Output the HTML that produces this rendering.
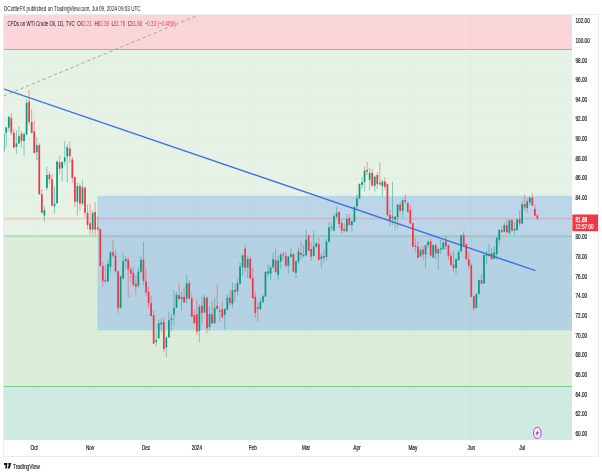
<!DOCTYPE html><html><head><meta charset="utf-8"><title>chart</title><style>html,body{margin:0;padding:0;background:#fff;}svg{display:block;opacity:0.999;will-change:transform}text{font-family:"Liberation Sans",sans-serif;}</style></head><body>
<svg width="602" height="476" viewBox="0 0 602 476">
<rect x="0" y="0" width="602" height="476" fill="#ffffff"/>
<defs><clipPath id="pane"><rect x="4" y="15" width="568" height="425"/></clipPath></defs>
<rect x="4" y="15" width="568" height="34.5" fill="#fad5d9"/>
<rect x="4" y="49.5" width="568" height="186.2" fill="#e5f2e5"/>
<rect x="4" y="235.7" width="568" height="150.8" fill="#dcedda"/>
<rect x="4" y="386.5" width="568" height="53.5" fill="#cfe9e3"/>
<g clip-path="url(#pane)">
<rect x="97.9" y="196.3" width="474.1" height="39.39999999999998" fill="#bdd5e8"/>
<rect x="97.9" y="235.7" width="474.1" height="94.30000000000001" fill="#b5d1e4"/>
<path d="M572 196.3H97.9V330H572" fill="none" stroke="#a3dbe6" stroke-width="0.8"/>
<line x1="4" x2="572" y1="433.71" y2="433.71" stroke="#000" stroke-opacity="0.035" stroke-width="0.6"/>
<line x1="4" x2="572" y1="414.06" y2="414.06" stroke="#000" stroke-opacity="0.035" stroke-width="0.6"/>
<line x1="4" x2="572" y1="394.41" y2="394.41" stroke="#000" stroke-opacity="0.035" stroke-width="0.6"/>
<line x1="4" x2="572" y1="374.76" y2="374.76" stroke="#000" stroke-opacity="0.035" stroke-width="0.6"/>
<line x1="4" x2="572" y1="355.12" y2="355.12" stroke="#000" stroke-opacity="0.035" stroke-width="0.6"/>
<line x1="4" x2="572" y1="335.47" y2="335.47" stroke="#000" stroke-opacity="0.035" stroke-width="0.6"/>
<line x1="4" x2="572" y1="315.82" y2="315.82" stroke="#000" stroke-opacity="0.035" stroke-width="0.6"/>
<line x1="4" x2="572" y1="296.17" y2="296.17" stroke="#000" stroke-opacity="0.035" stroke-width="0.6"/>
<line x1="4" x2="572" y1="276.52" y2="276.52" stroke="#000" stroke-opacity="0.035" stroke-width="0.6"/>
<line x1="4" x2="572" y1="256.88" y2="256.88" stroke="#000" stroke-opacity="0.035" stroke-width="0.6"/>
<line x1="4" x2="572" y1="237.23" y2="237.23" stroke="#000" stroke-opacity="0.035" stroke-width="0.6"/>
<line x1="4" x2="572" y1="217.58" y2="217.58" stroke="#000" stroke-opacity="0.035" stroke-width="0.6"/>
<line x1="4" x2="572" y1="197.93" y2="197.93" stroke="#000" stroke-opacity="0.035" stroke-width="0.6"/>
<line x1="4" x2="572" y1="178.28" y2="178.28" stroke="#000" stroke-opacity="0.035" stroke-width="0.6"/>
<line x1="4" x2="572" y1="158.64" y2="158.64" stroke="#000" stroke-opacity="0.035" stroke-width="0.6"/>
<line x1="4" x2="572" y1="138.99" y2="138.99" stroke="#000" stroke-opacity="0.035" stroke-width="0.6"/>
<line x1="4" x2="572" y1="119.34" y2="119.34" stroke="#000" stroke-opacity="0.035" stroke-width="0.6"/>
<line x1="4" x2="572" y1="99.69" y2="99.69" stroke="#000" stroke-opacity="0.035" stroke-width="0.6"/>
<line x1="4" x2="572" y1="80.04" y2="80.04" stroke="#000" stroke-opacity="0.035" stroke-width="0.6"/>
<line x1="4" x2="572" y1="60.40" y2="60.40" stroke="#000" stroke-opacity="0.035" stroke-width="0.6"/>
<line x1="4" x2="572" y1="40.75" y2="40.75" stroke="#000" stroke-opacity="0.035" stroke-width="0.6"/>
<line x1="4" x2="572" y1="21.10" y2="21.10" stroke="#000" stroke-opacity="0.035" stroke-width="0.6"/>
<line y1="15" y2="440" x1="34.20" x2="34.20" stroke="#000" stroke-opacity="0.035" stroke-width="0.6"/>
<line y1="15" y2="440" x1="90.11" x2="90.11" stroke="#000" stroke-opacity="0.035" stroke-width="0.6"/>
<line y1="15" y2="440" x1="146.02" x2="146.02" stroke="#000" stroke-opacity="0.035" stroke-width="0.6"/>
<line y1="15" y2="440" x1="196.84" x2="196.84" stroke="#000" stroke-opacity="0.035" stroke-width="0.6"/>
<line y1="15" y2="440" x1="252.75" x2="252.75" stroke="#000" stroke-opacity="0.035" stroke-width="0.6"/>
<line y1="15" y2="440" x1="306.12" x2="306.12" stroke="#000" stroke-opacity="0.035" stroke-width="0.6"/>
<line y1="15" y2="440" x1="356.95" x2="356.95" stroke="#000" stroke-opacity="0.035" stroke-width="0.6"/>
<line y1="15" y2="440" x1="412.85" x2="412.85" stroke="#000" stroke-opacity="0.035" stroke-width="0.6"/>
<line y1="15" y2="440" x1="471.30" x2="471.30" stroke="#000" stroke-opacity="0.035" stroke-width="0.6"/>
<line y1="15" y2="440" x1="522.13" x2="522.13" stroke="#000" stroke-opacity="0.035" stroke-width="0.6"/>
<line x1="4" x2="572" y1="49.5" y2="49.5" stroke="#f78a95" stroke-width="1.2"/>
<line x1="4" x2="97.9" y1="236" y2="236" stroke="#abd7ad" stroke-width="1.5"/>
<line x1="97.9" x2="572" y1="236" y2="236" stroke="#98c5c1" stroke-width="1.5"/>
<line x1="4" x2="572" y1="386.5" y2="386.5" stroke="#7cc68a" stroke-width="1.0"/>
<line x1="4" x2="572" y1="218.76" y2="218.76" stroke="#f23645" stroke-opacity="0.25" stroke-width="1.2"/>
<line x1="4" y1="95.8" x2="197" y2="15.6" stroke="#9a97a5" stroke-width="0.85" stroke-dasharray="3.3 2.7"/>
<line x1="4" y1="89.1" x2="534.8" y2="270.4" stroke="#3d70e2" stroke-width="1.4" stroke-linecap="round"/>
<line x1="3.70" x2="3.70" y1="132.11" y2="153.72" stroke="#089981" stroke-width="0.45"/>
<rect x="2.85" y="133.09" width="1.7" height="18.67" fill="#089981"/>
<line x1="6.25" x2="6.25" y1="127.00" y2="146.65" stroke="#089981" stroke-width="0.45"/>
<rect x="5.40" y="127.40" width="1.7" height="5.30" fill="#089981"/>
<line x1="8.79" x2="8.79" y1="115.71" y2="130.83" stroke="#089981" stroke-width="0.45"/>
<rect x="7.94" y="116.98" width="1.7" height="10.71" fill="#089981"/>
<line x1="11.33" x2="11.33" y1="113.15" y2="135.25" stroke="#f23645" stroke-width="0.45"/>
<rect x="10.48" y="117.87" width="1.7" height="14.83" fill="#f23645"/>
<line x1="13.87" x2="13.87" y1="128.97" y2="148.12" stroke="#f23645" stroke-width="0.45"/>
<rect x="13.02" y="132.70" width="1.7" height="14.93" fill="#f23645"/>
<line x1="16.41" x2="16.41" y1="130.15" y2="154.22" stroke="#089981" stroke-width="0.45"/>
<rect x="15.56" y="143.41" width="1.7" height="3.44" fill="#089981"/>
<line x1="18.95" x2="18.95" y1="126.41" y2="143.90" stroke="#089981" stroke-width="0.45"/>
<rect x="18.10" y="136.24" width="1.7" height="7.17" fill="#089981"/>
<line x1="21.49" x2="21.49" y1="130.83" y2="147.83" stroke="#f23645" stroke-width="0.45"/>
<rect x="20.64" y="133.78" width="1.7" height="7.17" fill="#f23645"/>
<line x1="24.03" x2="24.03" y1="132.11" y2="155.69" stroke="#089981" stroke-width="0.45"/>
<rect x="23.18" y="133.98" width="1.7" height="6.98" fill="#089981"/>
<line x1="26.58" x2="26.58" y1="99.10" y2="135.06" stroke="#089981" stroke-width="0.45"/>
<rect x="25.73" y="102.93" width="1.7" height="31.63" fill="#089981"/>
<line x1="29.12" x2="29.12" y1="89.97" y2="124.84" stroke="#f23645" stroke-width="0.45"/>
<rect x="28.27" y="101.66" width="1.7" height="20.34" fill="#f23645"/>
<line x1="31.66" x2="31.66" y1="109.12" y2="133.58" stroke="#f23645" stroke-width="0.45"/>
<rect x="30.81" y="121.99" width="1.7" height="10.71" fill="#f23645"/>
<line x1="34.20" x2="34.20" y1="120.72" y2="153.72" stroke="#f23645" stroke-width="0.45"/>
<rect x="33.35" y="131.42" width="1.7" height="21.51" fill="#f23645"/>
<line x1="36.74" x2="36.74" y1="137.12" y2="160.50" stroke="#089981" stroke-width="0.45"/>
<rect x="35.89" y="145.37" width="1.7" height="6.88" fill="#089981"/>
<line x1="39.28" x2="39.28" y1="143.41" y2="194.98" stroke="#f23645" stroke-width="0.45"/>
<rect x="38.43" y="145.08" width="1.7" height="49.12" fill="#f23645"/>
<line x1="41.82" x2="41.82" y1="189.09" y2="213.16" stroke="#f23645" stroke-width="0.45"/>
<rect x="40.97" y="194.20" width="1.7" height="18.57" fill="#f23645"/>
<line x1="44.37" x2="44.37" y1="205.79" y2="221.80" stroke="#089981" stroke-width="0.45"/>
<rect x="43.52" y="210.11" width="1.7" height="5.50" fill="#089981"/>
<line x1="46.91" x2="46.91" y1="166.40" y2="190.37" stroke="#089981" stroke-width="0.45"/>
<rect x="46.06" y="175.04" width="1.7" height="12.87" fill="#089981"/>
<line x1="49.45" x2="49.45" y1="171.51" y2="183.88" stroke="#f23645" stroke-width="0.45"/>
<rect x="48.60" y="174.65" width="1.7" height="4.62" fill="#f23645"/>
<line x1="51.99" x2="51.99" y1="173.96" y2="206.28" stroke="#f23645" stroke-width="0.45"/>
<rect x="51.14" y="179.27" width="1.7" height="26.33" fill="#f23645"/>
<line x1="54.53" x2="54.53" y1="187.22" y2="213.65" stroke="#089981" stroke-width="0.45"/>
<rect x="53.68" y="203.63" width="1.7" height="2.55" fill="#089981"/>
<line x1="57.07" x2="57.07" y1="160.60" y2="203.83" stroke="#089981" stroke-width="0.45"/>
<rect x="56.22" y="161.58" width="1.7" height="41.65" fill="#089981"/>
<line x1="59.61" x2="59.61" y1="155.69" y2="174.65" stroke="#f23645" stroke-width="0.45"/>
<rect x="58.76" y="162.37" width="1.7" height="6.29" fill="#f23645"/>
<line x1="62.15" x2="62.15" y1="161.09" y2="181.33" stroke="#089981" stroke-width="0.45"/>
<rect x="61.30" y="161.98" width="1.7" height="6.29" fill="#089981"/>
<line x1="64.70" x2="64.70" y1="140.95" y2="165.12" stroke="#089981" stroke-width="0.45"/>
<rect x="63.85" y="157.36" width="1.7" height="4.22" fill="#089981"/>
<line x1="67.24" x2="67.24" y1="144.10" y2="182.21" stroke="#089981" stroke-width="0.45"/>
<rect x="66.39" y="147.24" width="1.7" height="9.33" fill="#089981"/>
<line x1="69.78" x2="69.78" y1="140.95" y2="162.66" stroke="#f23645" stroke-width="0.45"/>
<rect x="68.93" y="148.52" width="1.7" height="7.76" fill="#f23645"/>
<line x1="72.32" x2="72.32" y1="156.97" y2="183.10" stroke="#f23645" stroke-width="0.45"/>
<rect x="71.47" y="159.42" width="1.7" height="18.57" fill="#f23645"/>
<line x1="74.86" x2="74.86" y1="176.32" y2="207.46" stroke="#f23645" stroke-width="0.45"/>
<rect x="74.01" y="177.11" width="1.7" height="24.66" fill="#f23645"/>
<line x1="77.40" x2="77.40" y1="182.70" y2="215.62" stroke="#089981" stroke-width="0.45"/>
<rect x="76.55" y="185.95" width="1.7" height="15.82" fill="#089981"/>
<line x1="79.94" x2="79.94" y1="183.20" y2="210.70" stroke="#f23645" stroke-width="0.45"/>
<rect x="79.09" y="185.95" width="1.7" height="17.68" fill="#f23645"/>
<line x1="82.48" x2="82.48" y1="180.25" y2="205.79" stroke="#089981" stroke-width="0.45"/>
<rect x="81.63" y="187.22" width="1.7" height="16.41" fill="#089981"/>
<line x1="85.03" x2="85.03" y1="186.14" y2="217.58" stroke="#f23645" stroke-width="0.45"/>
<rect x="84.18" y="187.91" width="1.7" height="24.85" fill="#f23645"/>
<line x1="87.57" x2="87.57" y1="204.22" y2="229.57" stroke="#f23645" stroke-width="0.45"/>
<rect x="86.72" y="212.96" width="1.7" height="11.99" fill="#f23645"/>
<line x1="90.11" x2="90.11" y1="203.83" y2="234.28" stroke="#f23645" stroke-width="0.45"/>
<rect x="89.26" y="223.28" width="1.7" height="6.29" fill="#f23645"/>
<line x1="92.65" x2="92.65" y1="210.21" y2="234.28" stroke="#089981" stroke-width="0.45"/>
<rect x="91.80" y="212.96" width="1.7" height="16.60" fill="#089981"/>
<line x1="95.19" x2="95.19" y1="202.35" y2="235.26" stroke="#f23645" stroke-width="0.45"/>
<rect x="94.34" y="211.98" width="1.7" height="17.58" fill="#f23645"/>
<line x1="97.73" x2="97.73" y1="216.60" y2="230.35" stroke="#f23645" stroke-width="0.45"/>
<rect x="96.88" y="227.40" width="1.7" height="2.16" fill="#f23645"/>
<line x1="100.27" x2="100.27" y1="228.39" y2="266.70" stroke="#f23645" stroke-width="0.45"/>
<rect x="99.42" y="229.07" width="1.7" height="37.04" fill="#f23645"/>
<line x1="102.82" x2="102.82" y1="262.28" y2="286.64" stroke="#f23645" stroke-width="0.45"/>
<rect x="101.97" y="266.11" width="1.7" height="14.74" fill="#f23645"/>
<line x1="105.36" x2="105.36" y1="265.72" y2="283.40" stroke="#f23645" stroke-width="0.45"/>
<rect x="104.51" y="279.96" width="1.7" height="1.47" fill="#f23645"/>
<line x1="107.90" x2="107.90" y1="259.82" y2="282.42" stroke="#089981" stroke-width="0.45"/>
<rect x="107.05" y="263.95" width="1.7" height="17.39" fill="#089981"/>
<line x1="110.44" x2="110.44" y1="251.47" y2="273.28" stroke="#089981" stroke-width="0.45"/>
<rect x="109.59" y="252.26" width="1.7" height="14.44" fill="#089981"/>
<line x1="112.98" x2="112.98" y1="239.88" y2="257.27" stroke="#f23645" stroke-width="0.45"/>
<rect x="112.13" y="252.26" width="1.7" height="3.34" fill="#f23645"/>
<line x1="115.52" x2="115.52" y1="249.51" y2="272.20" stroke="#f23645" stroke-width="0.45"/>
<rect x="114.67" y="255.60" width="1.7" height="15.72" fill="#f23645"/>
<line x1="118.06" x2="118.06" y1="270.63" y2="313.17" stroke="#f23645" stroke-width="0.45"/>
<rect x="117.21" y="271.32" width="1.7" height="36.55" fill="#f23645"/>
<line x1="120.60" x2="120.60" y1="275.54" y2="308.94" stroke="#089981" stroke-width="0.45"/>
<rect x="119.75" y="276.33" width="1.7" height="31.54" fill="#089981"/>
<line x1="123.15" x2="123.15" y1="252.95" y2="279.47" stroke="#089981" stroke-width="0.45"/>
<rect x="122.30" y="261.10" width="1.7" height="17.49" fill="#089981"/>
<line x1="125.69" x2="125.69" y1="256.48" y2="268.66" stroke="#089981" stroke-width="0.45"/>
<rect x="124.84" y="259.04" width="1.7" height="2.06" fill="#089981"/>
<line x1="128.23" x2="128.23" y1="257.37" y2="297.35" stroke="#f23645" stroke-width="0.45"/>
<rect x="127.38" y="259.82" width="1.7" height="9.63" fill="#f23645"/>
<line x1="130.77" x2="130.77" y1="266.70" y2="282.42" stroke="#f23645" stroke-width="0.45"/>
<rect x="129.92" y="269.45" width="1.7" height="4.13" fill="#f23645"/>
<line x1="133.31" x2="133.31" y1="266.70" y2="285.86" stroke="#f23645" stroke-width="0.45"/>
<rect x="132.46" y="272.79" width="1.7" height="12.48" fill="#f23645"/>
<line x1="135.85" x2="135.85" y1="275.84" y2="294.60" stroke="#f23645" stroke-width="0.45"/>
<rect x="135.00" y="283.60" width="1.7" height="3.05" fill="#f23645"/>
<line x1="138.39" x2="138.39" y1="267.19" y2="288.31" stroke="#089981" stroke-width="0.45"/>
<rect x="137.54" y="271.61" width="1.7" height="14.15" fill="#089981"/>
<line x1="140.93" x2="140.93" y1="256.48" y2="273.58" stroke="#089981" stroke-width="0.45"/>
<rect x="140.08" y="259.82" width="1.7" height="11.89" fill="#089981"/>
<line x1="143.48" x2="143.48" y1="241.55" y2="284.97" stroke="#f23645" stroke-width="0.45"/>
<rect x="142.63" y="259.53" width="1.7" height="21.32" fill="#f23645"/>
<line x1="146.02" x2="146.02" y1="269.16" y2="295.68" stroke="#f23645" stroke-width="0.45"/>
<rect x="145.17" y="281.34" width="1.7" height="11.10" fill="#f23645"/>
<line x1="148.56" x2="148.56" y1="286.64" y2="308.94" stroke="#f23645" stroke-width="0.45"/>
<rect x="147.71" y="291.65" width="1.7" height="11.69" fill="#f23645"/>
<line x1="151.10" x2="151.10" y1="295.68" y2="316.51" stroke="#f23645" stroke-width="0.45"/>
<rect x="150.25" y="303.25" width="1.7" height="12.77" fill="#f23645"/>
<line x1="153.64" x2="153.64" y1="310.52" y2="344.01" stroke="#f23645" stroke-width="0.45"/>
<rect x="152.79" y="315.03" width="1.7" height="28.49" fill="#f23645"/>
<line x1="156.18" x2="156.18" y1="330.75" y2="346.47" stroke="#089981" stroke-width="0.45"/>
<rect x="155.33" y="339.89" width="1.7" height="1.96" fill="#089981"/>
<line x1="158.72" x2="158.72" y1="319.95" y2="339.00" stroke="#089981" stroke-width="0.45"/>
<rect x="157.87" y="323.19" width="1.7" height="15.03" fill="#089981"/>
<line x1="161.27" x2="161.27" y1="318.18" y2="331.54" stroke="#089981" stroke-width="0.45"/>
<rect x="160.42" y="322.40" width="1.7" height="2.16" fill="#089981"/>
<line x1="163.81" x2="163.81" y1="316.61" y2="352.27" stroke="#f23645" stroke-width="0.45"/>
<rect x="162.96" y="321.91" width="1.7" height="27.11" fill="#f23645"/>
<line x1="166.35" x2="166.35" y1="336.45" y2="357.38" stroke="#089981" stroke-width="0.45"/>
<rect x="165.50" y="337.43" width="1.7" height="9.92" fill="#089981"/>
<line x1="168.89" x2="168.89" y1="311.60" y2="338.22" stroke="#089981" stroke-width="0.45"/>
<rect x="168.04" y="320.24" width="1.7" height="17.19" fill="#089981"/>
<line x1="171.43" x2="171.43" y1="314.15" y2="331.54" stroke="#089981" stroke-width="0.45"/>
<rect x="170.58" y="318.57" width="1.7" height="1.57" fill="#089981"/>
<line x1="173.97" x2="173.97" y1="290.38" y2="325.64" stroke="#089981" stroke-width="0.45"/>
<rect x="173.12" y="307.86" width="1.7" height="6.68" fill="#089981"/>
<line x1="176.51" x2="176.51" y1="292.24" y2="308.35" stroke="#089981" stroke-width="0.45"/>
<rect x="175.66" y="294.89" width="1.7" height="12.77" fill="#089981"/>
<line x1="179.05" x2="179.05" y1="283.11" y2="299.61" stroke="#f23645" stroke-width="0.45"/>
<rect x="178.20" y="295.19" width="1.7" height="3.83" fill="#f23645"/>
<line x1="181.60" x2="181.60" y1="291.06" y2="310.71" stroke="#089981" stroke-width="0.45"/>
<rect x="180.75" y="296.96" width="1.7" height="2.06" fill="#089981"/>
<line x1="184.14" x2="184.14" y1="287.23" y2="303.05" stroke="#f23645" stroke-width="0.45"/>
<rect x="183.29" y="296.86" width="1.7" height="5.50" fill="#f23645"/>
<line x1="186.68" x2="186.68" y1="275.25" y2="303.64" stroke="#089981" stroke-width="0.45"/>
<rect x="185.83" y="283.50" width="1.7" height="15.13" fill="#089981"/>
<line x1="189.22" x2="189.22" y1="280.06" y2="299.12" stroke="#f23645" stroke-width="0.45"/>
<rect x="188.37" y="283.11" width="1.7" height="15.33" fill="#f23645"/>
<line x1="191.76" x2="191.76" y1="292.93" y2="317.29" stroke="#f23645" stroke-width="0.45"/>
<rect x="190.91" y="298.24" width="1.7" height="18.37" fill="#f23645"/>
<line x1="194.30" x2="194.30" y1="309.93" y2="323.97" stroke="#f23645" stroke-width="0.45"/>
<rect x="193.45" y="314.94" width="1.7" height="8.25" fill="#f23645"/>
<line x1="196.84" x2="196.84" y1="299.91" y2="334.88" stroke="#f23645" stroke-width="0.45"/>
<rect x="195.99" y="314.15" width="1.7" height="17.39" fill="#f23645"/>
<line x1="199.38" x2="199.38" y1="304.13" y2="342.34" stroke="#089981" stroke-width="0.45"/>
<rect x="198.53" y="306.78" width="1.7" height="23.97" fill="#089981"/>
<line x1="201.93" x2="201.93" y1="296.76" y2="324.07" stroke="#f23645" stroke-width="0.45"/>
<rect x="201.08" y="305.80" width="1.7" height="7.07" fill="#f23645"/>
<line x1="204.47" x2="204.47" y1="294.21" y2="313.17" stroke="#089981" stroke-width="0.45"/>
<rect x="203.62" y="297.35" width="1.7" height="15.03" fill="#089981"/>
<line x1="207.01" x2="207.01" y1="296.66" y2="333.50" stroke="#f23645" stroke-width="0.45"/>
<rect x="206.16" y="297.65" width="1.7" height="30.55" fill="#f23645"/>
<line x1="209.55" x2="209.55" y1="306.59" y2="330.75" stroke="#089981" stroke-width="0.45"/>
<rect x="208.70" y="314.15" width="1.7" height="12.77" fill="#089981"/>
<line x1="212.09" x2="212.09" y1="300.69" y2="324.07" stroke="#f23645" stroke-width="0.45"/>
<rect x="211.24" y="314.15" width="1.7" height="9.14" fill="#f23645"/>
<line x1="214.63" x2="214.63" y1="298.14" y2="324.07" stroke="#089981" stroke-width="0.45"/>
<rect x="213.78" y="307.96" width="1.7" height="15.23" fill="#089981"/>
<line x1="217.17" x2="217.17" y1="284.09" y2="309.73" stroke="#f23645" stroke-width="0.45"/>
<rect x="216.32" y="305.60" width="1.7" height="3.24" fill="#f23645"/>
<line x1="219.71" x2="219.71" y1="306.59" y2="322.40" stroke="#f23645" stroke-width="0.45"/>
<rect x="218.86" y="310.81" width="1.7" height="1.08" fill="#f23645"/>
<line x1="222.26" x2="222.26" y1="300.69" y2="318.57" stroke="#f23645" stroke-width="0.45"/>
<rect x="221.41" y="309.04" width="1.7" height="8.25" fill="#f23645"/>
<line x1="224.80" x2="224.80" y1="308.16" y2="329.08" stroke="#089981" stroke-width="0.45"/>
<rect x="223.95" y="309.04" width="1.7" height="5.80" fill="#089981"/>
<line x1="227.34" x2="227.34" y1="294.21" y2="310.42" stroke="#089981" stroke-width="0.45"/>
<rect x="226.49" y="297.65" width="1.7" height="11.89" fill="#089981"/>
<line x1="229.88" x2="229.88" y1="290.47" y2="305.50" stroke="#f23645" stroke-width="0.45"/>
<rect x="229.03" y="297.74" width="1.7" height="5.30" fill="#f23645"/>
<line x1="232.42" x2="232.42" y1="282.22" y2="308.16" stroke="#089981" stroke-width="0.45"/>
<rect x="231.57" y="290.47" width="1.7" height="13.26" fill="#089981"/>
<line x1="234.96" x2="234.96" y1="283.70" y2="301.58" stroke="#f23645" stroke-width="0.45"/>
<rect x="234.11" y="289.79" width="1.7" height="1.96" fill="#f23645"/>
<line x1="237.50" x2="237.50" y1="278.49" y2="295.58" stroke="#089981" stroke-width="0.45"/>
<rect x="236.65" y="283.11" width="1.7" height="8.45" fill="#089981"/>
<line x1="240.05" x2="240.05" y1="262.18" y2="284.38" stroke="#089981" stroke-width="0.45"/>
<rect x="239.20" y="266.50" width="1.7" height="17.19" fill="#089981"/>
<line x1="242.59" x2="242.59" y1="254.62" y2="275.74" stroke="#089981" stroke-width="0.45"/>
<rect x="241.74" y="255.30" width="1.7" height="12.08" fill="#089981"/>
<line x1="245.13" x2="245.13" y1="244.99" y2="272.40" stroke="#f23645" stroke-width="0.45"/>
<rect x="244.28" y="248.33" width="1.7" height="19.55" fill="#f23645"/>
<line x1="247.67" x2="247.67" y1="255.80" y2="277.90" stroke="#089981" stroke-width="0.45"/>
<rect x="246.82" y="259.04" width="1.7" height="8.35" fill="#089981"/>
<line x1="250.21" x2="250.21" y1="256.29" y2="279.47" stroke="#f23645" stroke-width="0.45"/>
<rect x="249.36" y="258.55" width="1.7" height="19.94" fill="#f23645"/>
<line x1="252.75" x2="252.75" y1="267.88" y2="298.92" stroke="#f23645" stroke-width="0.45"/>
<rect x="251.90" y="278.19" width="1.7" height="19.94" fill="#f23645"/>
<line x1="255.29" x2="255.29" y1="291.46" y2="317.78" stroke="#f23645" stroke-width="0.45"/>
<rect x="254.44" y="296.76" width="1.7" height="16.31" fill="#f23645"/>
<line x1="257.83" x2="257.83" y1="302.26" y2="321.22" stroke="#f23645" stroke-width="0.45"/>
<rect x="256.98" y="307.27" width="1.7" height="1.67" fill="#f23645"/>
<line x1="260.38" x2="260.38" y1="298.14" y2="310.61" stroke="#089981" stroke-width="0.45"/>
<rect x="259.53" y="301.77" width="1.7" height="7.17" fill="#089981"/>
<line x1="262.92" x2="262.92" y1="294.80" y2="303.15" stroke="#089981" stroke-width="0.45"/>
<rect x="262.07" y="296.17" width="1.7" height="6.09" fill="#089981"/>
<line x1="265.46" x2="265.46" y1="271.51" y2="297.25" stroke="#089981" stroke-width="0.45"/>
<rect x="264.61" y="271.91" width="1.7" height="24.56" fill="#089981"/>
<line x1="268.00" x2="268.00" y1="264.54" y2="276.52" stroke="#089981" stroke-width="0.45"/>
<rect x="267.15" y="271.22" width="1.7" height="2.36" fill="#089981"/>
<line x1="270.54" x2="270.54" y1="265.72" y2="280.65" stroke="#089981" stroke-width="0.45"/>
<rect x="269.69" y="267.39" width="1.7" height="6.68" fill="#089981"/>
<line x1="273.08" x2="273.08" y1="252.46" y2="268.17" stroke="#089981" stroke-width="0.45"/>
<rect x="272.23" y="259.04" width="1.7" height="8.35" fill="#089981"/>
<line x1="275.62" x2="275.62" y1="249.12" y2="272.89" stroke="#f23645" stroke-width="0.45"/>
<rect x="274.77" y="259.92" width="1.7" height="11.99" fill="#f23645"/>
<line x1="278.16" x2="278.16" y1="255.80" y2="280.65" stroke="#089981" stroke-width="0.45"/>
<rect x="277.31" y="260.71" width="1.7" height="14.15" fill="#089981"/>
<line x1="280.71" x2="280.71" y1="252.46" y2="269.06" stroke="#089981" stroke-width="0.45"/>
<rect x="279.86" y="254.91" width="1.7" height="6.68" fill="#089981"/>
<line x1="283.25" x2="283.25" y1="251.57" y2="259.92" stroke="#f23645" stroke-width="0.45"/>
<rect x="282.40" y="254.13" width="1.7" height="1.18" fill="#f23645"/>
<line x1="285.79" x2="285.79" y1="251.57" y2="267.39" stroke="#f23645" stroke-width="0.45"/>
<rect x="284.94" y="255.80" width="1.7" height="9.92" fill="#f23645"/>
<line x1="288.33" x2="288.33" y1="255.80" y2="273.18" stroke="#089981" stroke-width="0.45"/>
<rect x="287.48" y="256.58" width="1.7" height="9.14" fill="#089981"/>
<line x1="290.87" x2="290.87" y1="248.33" y2="257.47" stroke="#089981" stroke-width="0.45"/>
<rect x="290.02" y="254.13" width="1.7" height="2.46" fill="#089981"/>
<line x1="293.41" x2="293.41" y1="253.24" y2="272.40" stroke="#f23645" stroke-width="0.45"/>
<rect x="292.56" y="254.13" width="1.7" height="17.39" fill="#f23645"/>
<line x1="295.95" x2="295.95" y1="259.92" y2="277.90" stroke="#089981" stroke-width="0.45"/>
<rect x="295.10" y="261.20" width="1.7" height="11.69" fill="#089981"/>
<line x1="298.50" x2="298.50" y1="247.44" y2="264.93" stroke="#089981" stroke-width="0.45"/>
<rect x="297.65" y="251.57" width="1.7" height="10.02" fill="#089981"/>
<line x1="301.04" x2="301.04" y1="241.35" y2="258.55" stroke="#f23645" stroke-width="0.45"/>
<rect x="300.19" y="252.95" width="1.7" height="1.96" fill="#f23645"/>
<line x1="303.58" x2="303.58" y1="244.99" y2="256.58" stroke="#089981" stroke-width="0.45"/>
<rect x="302.73" y="254.62" width="1.7" height="1.67" fill="#089981"/>
<line x1="306.12" x2="306.12" y1="229.37" y2="255.80" stroke="#089981" stroke-width="0.45"/>
<rect x="305.27" y="239.68" width="1.7" height="15.62" fill="#089981"/>
<line x1="308.66" x2="308.66" y1="234.28" y2="251.57" stroke="#f23645" stroke-width="0.45"/>
<rect x="307.81" y="235.85" width="1.7" height="14.93" fill="#f23645"/>
<line x1="311.20" x2="311.20" y1="242.43" y2="261.20" stroke="#f23645" stroke-width="0.45"/>
<rect x="310.35" y="249.12" width="1.7" height="7.47" fill="#f23645"/>
<line x1="313.74" x2="313.74" y1="230.74" y2="256.48" stroke="#089981" stroke-width="0.45"/>
<rect x="312.89" y="246.56" width="1.7" height="9.14" fill="#089981"/>
<line x1="316.28" x2="316.28" y1="241.94" y2="247.54" stroke="#089981" stroke-width="0.45"/>
<rect x="315.43" y="243.02" width="1.7" height="3.73" fill="#089981"/>
<line x1="318.83" x2="318.83" y1="237.72" y2="260.61" stroke="#f23645" stroke-width="0.45"/>
<rect x="317.98" y="244.10" width="1.7" height="15.72" fill="#f23645"/>
<line x1="321.37" x2="321.37" y1="253.14" y2="268.08" stroke="#089981" stroke-width="0.45"/>
<rect x="320.52" y="256.48" width="1.7" height="2.46" fill="#089981"/>
<line x1="323.91" x2="323.91" y1="249.80" y2="263.07" stroke="#f23645" stroke-width="0.45"/>
<rect x="323.06" y="256.09" width="1.7" height="1.67" fill="#f23645"/>
<line x1="326.45" x2="326.45" y1="239.00" y2="260.61" stroke="#089981" stroke-width="0.45"/>
<rect x="325.60" y="241.45" width="1.7" height="15.42" fill="#089981"/>
<line x1="328.99" x2="328.99" y1="221.61" y2="242.34" stroke="#089981" stroke-width="0.45"/>
<rect x="328.14" y="227.40" width="1.7" height="14.44" fill="#089981"/>
<line x1="331.53" x2="331.53" y1="222.39" y2="231.53" stroke="#f23645" stroke-width="0.45"/>
<rect x="330.68" y="226.91" width="1.7" height="0.98" fill="#f23645"/>
<line x1="334.07" x2="334.07" y1="213.26" y2="231.24" stroke="#089981" stroke-width="0.45"/>
<rect x="333.22" y="216.20" width="1.7" height="14.54" fill="#089981"/>
<line x1="336.61" x2="336.61" y1="206.58" y2="219.05" stroke="#089981" stroke-width="0.45"/>
<rect x="335.76" y="213.26" width="1.7" height="3.34" fill="#089981"/>
<line x1="339.16" x2="339.16" y1="211.59" y2="228.19" stroke="#f23645" stroke-width="0.45"/>
<rect x="338.31" y="211.88" width="1.7" height="12.18" fill="#f23645"/>
<line x1="341.70" x2="341.70" y1="219.05" y2="233.99" stroke="#f23645" stroke-width="0.45"/>
<rect x="340.85" y="222.88" width="1.7" height="7.86" fill="#f23645"/>
<line x1="344.24" x2="344.24" y1="223.28" y2="232.91" stroke="#f23645" stroke-width="0.45"/>
<rect x="343.39" y="229.07" width="1.7" height="1.67" fill="#f23645"/>
<line x1="346.78" x2="346.78" y1="214.04" y2="231.82" stroke="#089981" stroke-width="0.45"/>
<rect x="345.93" y="219.05" width="1.7" height="12.18" fill="#089981"/>
<line x1="349.32" x2="349.32" y1="214.04" y2="225.73" stroke="#f23645" stroke-width="0.45"/>
<rect x="348.47" y="217.87" width="1.7" height="7.37" fill="#f23645"/>
<line x1="351.86" x2="351.86" y1="220.72" y2="231.53" stroke="#089981" stroke-width="0.45"/>
<rect x="351.01" y="221.21" width="1.7" height="4.03" fill="#089981"/>
<line x1="354.40" x2="354.40" y1="206.28" y2="222.39" stroke="#089981" stroke-width="0.45"/>
<rect x="353.55" y="206.97" width="1.7" height="14.93" fill="#089981"/>
<line x1="356.95" x2="356.95" y1="194.40" y2="208.74" stroke="#089981" stroke-width="0.45"/>
<rect x="356.10" y="198.42" width="1.7" height="7.96" fill="#089981"/>
<line x1="359.49" x2="359.49" y1="183.20" y2="199.01" stroke="#089981" stroke-width="0.45"/>
<rect x="358.64" y="184.08" width="1.7" height="14.44" fill="#089981"/>
<line x1="362.03" x2="362.03" y1="176.61" y2="188.99" stroke="#089981" stroke-width="0.45"/>
<rect x="361.18" y="181.92" width="1.7" height="2.95" fill="#089981"/>
<line x1="364.57" x2="364.57" y1="166.59" y2="191.55" stroke="#089981" stroke-width="0.45"/>
<rect x="363.72" y="170.72" width="1.7" height="11.20" fill="#089981"/>
<line x1="367.11" x2="367.11" y1="161.98" y2="174.94" stroke="#f23645" stroke-width="0.45"/>
<rect x="366.26" y="169.93" width="1.7" height="1.67" fill="#f23645"/>
<line x1="369.65" x2="369.65" y1="167.48" y2="190.66" stroke="#089981" stroke-width="0.45"/>
<rect x="368.80" y="172.88" width="1.7" height="6.98" fill="#089981"/>
<line x1="372.19" x2="372.19" y1="169.15" y2="186.24" stroke="#f23645" stroke-width="0.45"/>
<rect x="371.34" y="172.88" width="1.7" height="12.87" fill="#f23645"/>
<line x1="374.73" x2="374.73" y1="175.73" y2="191.55" stroke="#089981" stroke-width="0.45"/>
<rect x="373.88" y="176.61" width="1.7" height="9.14" fill="#089981"/>
<line x1="377.28" x2="377.28" y1="172.39" y2="188.99" stroke="#f23645" stroke-width="0.45"/>
<rect x="376.43" y="174.94" width="1.7" height="9.14" fill="#f23645"/>
<line x1="379.82" x2="379.82" y1="161.98" y2="184.87" stroke="#f23645" stroke-width="0.45"/>
<rect x="378.97" y="182.90" width="1.7" height="1.67" fill="#f23645"/>
<line x1="382.36" x2="382.36" y1="179.86" y2="196.85" stroke="#089981" stroke-width="0.45"/>
<rect x="381.51" y="181.53" width="1.7" height="4.72" fill="#089981"/>
<line x1="384.90" x2="384.90" y1="177.40" y2="189.88" stroke="#f23645" stroke-width="0.45"/>
<rect x="384.05" y="181.53" width="1.7" height="5.30" fill="#f23645"/>
<line x1="387.44" x2="387.44" y1="183.20" y2="216.40" stroke="#f23645" stroke-width="0.45"/>
<rect x="386.59" y="184.08" width="1.7" height="31.14" fill="#f23645"/>
<line x1="389.98" x2="389.98" y1="209.82" y2="226.42" stroke="#f23645" stroke-width="0.45"/>
<rect x="389.13" y="214.83" width="1.7" height="5.40" fill="#f23645"/>
<line x1="392.52" x2="392.52" y1="181.92" y2="224.95" stroke="#089981" stroke-width="0.45"/>
<rect x="391.67" y="216.70" width="1.7" height="1.47" fill="#089981"/>
<line x1="395.06" x2="395.06" y1="216.01" y2="229.47" stroke="#089981" stroke-width="0.45"/>
<rect x="394.21" y="216.70" width="1.7" height="3.14" fill="#089981"/>
<line x1="397.61" x2="397.61" y1="204.02" y2="228.09" stroke="#089981" stroke-width="0.45"/>
<rect x="396.76" y="204.51" width="1.7" height="12.77" fill="#089981"/>
<line x1="400.15" x2="400.15" y1="201.67" y2="213.16" stroke="#f23645" stroke-width="0.45"/>
<rect x="399.30" y="204.51" width="1.7" height="6.19" fill="#f23645"/>
<line x1="402.69" x2="402.69" y1="199.90" y2="217.29" stroke="#089981" stroke-width="0.45"/>
<rect x="401.84" y="200.19" width="1.7" height="10.51" fill="#089981"/>
<line x1="405.23" x2="405.23" y1="193.81" y2="203.83" stroke="#f23645" stroke-width="0.45"/>
<rect x="404.38" y="200.19" width="1.7" height="1.67" fill="#f23645"/>
<line x1="407.77" x2="407.77" y1="201.86" y2="212.96" stroke="#f23645" stroke-width="0.45"/>
<rect x="406.92" y="203.24" width="1.7" height="8.45" fill="#f23645"/>
<line x1="410.31" x2="410.31" y1="204.81" y2="224.46" stroke="#f23645" stroke-width="0.45"/>
<rect x="409.46" y="210.11" width="1.7" height="13.16" fill="#f23645"/>
<line x1="412.85" x2="412.85" y1="222.49" y2="247.35" stroke="#f23645" stroke-width="0.45"/>
<rect x="412.00" y="223.28" width="1.7" height="23.28" fill="#f23645"/>
<line x1="415.39" x2="415.39" y1="238.21" y2="252.36" stroke="#f23645" stroke-width="0.45"/>
<rect x="414.54" y="245.77" width="1.7" height="1.08" fill="#f23645"/>
<line x1="417.94" x2="417.94" y1="241.55" y2="258.55" stroke="#f23645" stroke-width="0.45"/>
<rect x="417.09" y="246.56" width="1.7" height="11.30" fill="#f23645"/>
<line x1="420.48" x2="420.48" y1="247.35" y2="256.88" stroke="#089981" stroke-width="0.45"/>
<rect x="419.63" y="250.20" width="1.7" height="5.99" fill="#089981"/>
<line x1="423.02" x2="423.02" y1="245.77" y2="260.71" stroke="#f23645" stroke-width="0.45"/>
<rect x="422.17" y="249.51" width="1.7" height="5.01" fill="#f23645"/>
<line x1="425.56" x2="425.56" y1="244.89" y2="267.78" stroke="#089981" stroke-width="0.45"/>
<rect x="424.71" y="245.19" width="1.7" height="9.33" fill="#089981"/>
<line x1="428.10" x2="428.10" y1="239.88" y2="248.23" stroke="#089981" stroke-width="0.45"/>
<rect x="427.25" y="241.94" width="1.7" height="3.24" fill="#089981"/>
<line x1="430.64" x2="430.64" y1="238.21" y2="256.48" stroke="#f23645" stroke-width="0.45"/>
<rect x="429.79" y="241.26" width="1.7" height="14.44" fill="#f23645"/>
<line x1="433.18" x2="433.18" y1="244.10" y2="258.15" stroke="#089981" stroke-width="0.45"/>
<rect x="432.33" y="245.19" width="1.7" height="12.18" fill="#089981"/>
<line x1="435.73" x2="435.73" y1="244.10" y2="259.82" stroke="#f23645" stroke-width="0.45"/>
<rect x="434.88" y="245.19" width="1.7" height="8.35" fill="#f23645"/>
<line x1="438.27" x2="438.27" y1="248.23" y2="269.45" stroke="#089981" stroke-width="0.45"/>
<rect x="437.42" y="249.02" width="1.7" height="4.52" fill="#089981"/>
<line x1="440.81" x2="440.81" y1="239.88" y2="254.03" stroke="#089981" stroke-width="0.45"/>
<rect x="439.96" y="248.23" width="1.7" height="1.28" fill="#089981"/>
<line x1="443.35" x2="443.35" y1="241.55" y2="249.90" stroke="#089981" stroke-width="0.45"/>
<rect x="442.50" y="242.43" width="1.7" height="6.58" fill="#089981"/>
<line x1="445.89" x2="445.89" y1="236.25" y2="249.90" stroke="#f23645" stroke-width="0.45"/>
<rect x="445.04" y="241.26" width="1.7" height="5.01" fill="#f23645"/>
<line x1="448.43" x2="448.43" y1="244.60" y2="260.22" stroke="#f23645" stroke-width="0.45"/>
<rect x="447.58" y="245.19" width="1.7" height="10.51" fill="#f23645"/>
<line x1="450.97" x2="450.97" y1="252.36" y2="265.72" stroke="#f23645" stroke-width="0.45"/>
<rect x="450.12" y="255.70" width="1.7" height="9.43" fill="#f23645"/>
<line x1="453.51" x2="453.51" y1="250.69" y2="271.81" stroke="#f23645" stroke-width="0.45"/>
<rect x="452.66" y="264.54" width="1.7" height="3.63" fill="#f23645"/>
<line x1="456.06" x2="456.06" y1="258.15" y2="274.46" stroke="#089981" stroke-width="0.45"/>
<rect x="455.21" y="259.04" width="1.7" height="9.14" fill="#089981"/>
<line x1="458.60" x2="458.60" y1="249.90" y2="260.71" stroke="#089981" stroke-width="0.45"/>
<rect x="457.75" y="251.87" width="1.7" height="8.35" fill="#089981"/>
<line x1="461.14" x2="461.14" y1="234.58" y2="251.87" stroke="#089981" stroke-width="0.45"/>
<rect x="460.29" y="235.26" width="1.7" height="15.91" fill="#089981"/>
<line x1="463.68" x2="463.68" y1="231.24" y2="246.27" stroke="#f23645" stroke-width="0.45"/>
<rect x="462.83" y="234.97" width="1.7" height="10.22" fill="#f23645"/>
<line x1="466.22" x2="466.22" y1="243.22" y2="259.53" stroke="#f23645" stroke-width="0.45"/>
<rect x="465.37" y="244.10" width="1.7" height="14.93" fill="#f23645"/>
<line x1="468.76" x2="468.76" y1="251.57" y2="269.45" stroke="#f23645" stroke-width="0.45"/>
<rect x="467.91" y="259.04" width="1.7" height="6.58" fill="#f23645"/>
<line x1="471.30" x2="471.30" y1="263.26" y2="297.35" stroke="#f23645" stroke-width="0.45"/>
<rect x="470.45" y="265.23" width="1.7" height="31.54" fill="#f23645"/>
<line x1="473.84" x2="473.84" y1="296.17" y2="311.10" stroke="#f23645" stroke-width="0.45"/>
<rect x="472.99" y="296.47" width="1.7" height="11.69" fill="#f23645"/>
<line x1="476.39" x2="476.39" y1="293.22" y2="308.94" stroke="#089981" stroke-width="0.45"/>
<rect x="475.54" y="294.01" width="1.7" height="13.75" fill="#089981"/>
<line x1="478.93" x2="478.93" y1="279.47" y2="294.70" stroke="#089981" stroke-width="0.45"/>
<rect x="478.08" y="280.16" width="1.7" height="13.85" fill="#089981"/>
<line x1="481.47" x2="481.47" y1="274.56" y2="283.99" stroke="#f23645" stroke-width="0.45"/>
<rect x="480.62" y="280.16" width="1.7" height="3.34" fill="#f23645"/>
<line x1="484.01" x2="484.01" y1="254.42" y2="283.99" stroke="#089981" stroke-width="0.45"/>
<rect x="483.16" y="254.91" width="1.7" height="28.59" fill="#089981"/>
<line x1="486.55" x2="486.55" y1="250.79" y2="264.05" stroke="#089981" stroke-width="0.45"/>
<rect x="485.70" y="254.13" width="1.7" height="1.67" fill="#089981"/>
<line x1="489.09" x2="489.09" y1="244.10" y2="256.58" stroke="#089981" stroke-width="0.45"/>
<rect x="488.24" y="254.13" width="1.7" height="1.67" fill="#089981"/>
<line x1="491.63" x2="491.63" y1="248.33" y2="259.63" stroke="#f23645" stroke-width="0.45"/>
<rect x="490.78" y="253.24" width="1.7" height="5.89" fill="#f23645"/>
<line x1="494.18" x2="494.18" y1="245.77" y2="259.14" stroke="#089981" stroke-width="0.45"/>
<rect x="493.33" y="252.46" width="1.7" height="6.19" fill="#089981"/>
<line x1="496.72" x2="496.72" y1="237.33" y2="259.92" stroke="#089981" stroke-width="0.45"/>
<rect x="495.87" y="237.82" width="1.7" height="16.31" fill="#089981"/>
<line x1="499.26" x2="499.26" y1="228.98" y2="244.79" stroke="#089981" stroke-width="0.45"/>
<rect x="498.41" y="229.86" width="1.7" height="9.92" fill="#089981"/>
<line x1="501.80" x2="501.80" y1="225.73" y2="233.20" stroke="#f23645" stroke-width="0.45"/>
<rect x="500.95" y="230.15" width="1.7" height="1.67" fill="#f23645"/>
<line x1="504.34" x2="504.34" y1="222.39" y2="232.32" stroke="#089981" stroke-width="0.45"/>
<rect x="503.49" y="225.14" width="1.7" height="6.68" fill="#089981"/>
<line x1="506.88" x2="506.88" y1="219.84" y2="233.20" stroke="#f23645" stroke-width="0.45"/>
<rect x="506.03" y="225.14" width="1.7" height="7.17" fill="#f23645"/>
<line x1="509.42" x2="509.42" y1="219.84" y2="234.48" stroke="#089981" stroke-width="0.45"/>
<rect x="508.57" y="220.23" width="1.7" height="12.57" fill="#089981"/>
<line x1="511.96" x2="511.96" y1="219.05" y2="231.53" stroke="#f23645" stroke-width="0.45"/>
<rect x="511.11" y="220.23" width="1.7" height="10.41" fill="#f23645"/>
<line x1="514.51" x2="514.51" y1="222.39" y2="234.77" stroke="#089981" stroke-width="0.45"/>
<rect x="513.66" y="228.98" width="1.7" height="1.67" fill="#089981"/>
<line x1="517.05" x2="517.05" y1="218.17" y2="230.65" stroke="#089981" stroke-width="0.45"/>
<rect x="516.20" y="219.54" width="1.7" height="10.61" fill="#089981"/>
<line x1="519.59" x2="519.59" y1="210.70" y2="226.52" stroke="#f23645" stroke-width="0.45"/>
<rect x="518.74" y="219.05" width="1.7" height="4.52" fill="#f23645"/>
<line x1="522.13" x2="522.13" y1="201.57" y2="224.06" stroke="#089981" stroke-width="0.45"/>
<rect x="521.28" y="204.12" width="1.7" height="19.45" fill="#089981"/>
<line x1="524.67" x2="524.67" y1="194.59" y2="210.70" stroke="#f23645" stroke-width="0.45"/>
<rect x="523.82" y="204.12" width="1.7" height="3.34" fill="#f23645"/>
<line x1="527.21" x2="527.21" y1="198.62" y2="212.37" stroke="#089981" stroke-width="0.45"/>
<rect x="526.36" y="201.57" width="1.7" height="6.39" fill="#089981"/>
<line x1="529.75" x2="529.75" y1="196.65" y2="204.91" stroke="#089981" stroke-width="0.45"/>
<rect x="528.90" y="197.44" width="1.7" height="5.01" fill="#089981"/>
<line x1="532.29" x2="532.29" y1="193.02" y2="206.28" stroke="#f23645" stroke-width="0.45"/>
<rect x="531.44" y="197.44" width="1.7" height="7.86" fill="#f23645"/>
<line x1="534.84" x2="534.84" y1="204.91" y2="216.20" stroke="#f23645" stroke-width="0.45"/>
<rect x="533.99" y="209.03" width="1.7" height="6.68" fill="#f23645"/>
<line x1="537.38" x2="537.38" y1="213.75" y2="219.94" stroke="#f23645" stroke-width="0.45"/>
<rect x="536.53" y="215.52" width="1.7" height="3.24" fill="#f23645"/>
<ellipse cx="537.25" cy="432.9" rx="3.7" ry="5.5" fill="#fff" stroke="#bd52cd" stroke-width="1.2"/>
<path d="M538.7 429.3 L535.4 433.7 L536.9 433.7 L535.9 436.7 L539.2 432.2 L537.6 432.2 Z" fill="#a02bb8"/>
</g>
<rect x="3.5" y="14.5" width="595" height="442" fill="none" stroke="#ebedf2" stroke-width="1"/>
<text transform="translate(575.50 435.81) scale(0.667 1)" font-size="7" fill="#131722" text-anchor="start" font-weight="normal" stroke="#131722" stroke-width="0.2">60.00</text>
<text transform="translate(575.50 416.16) scale(0.667 1)" font-size="7" fill="#131722" text-anchor="start" font-weight="normal" stroke="#131722" stroke-width="0.2">62.00</text>
<text transform="translate(575.50 396.51) scale(0.667 1)" font-size="7" fill="#131722" text-anchor="start" font-weight="normal" stroke="#131722" stroke-width="0.2">64.00</text>
<text transform="translate(575.50 376.86) scale(0.667 1)" font-size="7" fill="#131722" text-anchor="start" font-weight="normal" stroke="#131722" stroke-width="0.2">66.00</text>
<text transform="translate(575.50 357.22) scale(0.667 1)" font-size="7" fill="#131722" text-anchor="start" font-weight="normal" stroke="#131722" stroke-width="0.2">68.00</text>
<text transform="translate(575.50 337.57) scale(0.667 1)" font-size="7" fill="#131722" text-anchor="start" font-weight="normal" stroke="#131722" stroke-width="0.2">70.00</text>
<text transform="translate(575.50 317.92) scale(0.667 1)" font-size="7" fill="#131722" text-anchor="start" font-weight="normal" stroke="#131722" stroke-width="0.2">72.00</text>
<text transform="translate(575.50 298.27) scale(0.667 1)" font-size="7" fill="#131722" text-anchor="start" font-weight="normal" stroke="#131722" stroke-width="0.2">74.00</text>
<text transform="translate(575.50 278.62) scale(0.667 1)" font-size="7" fill="#131722" text-anchor="start" font-weight="normal" stroke="#131722" stroke-width="0.2">76.00</text>
<text transform="translate(575.50 258.98) scale(0.667 1)" font-size="7" fill="#131722" text-anchor="start" font-weight="normal" stroke="#131722" stroke-width="0.2">78.00</text>
<text transform="translate(575.50 239.33) scale(0.667 1)" font-size="7" fill="#131722" text-anchor="start" font-weight="normal" stroke="#131722" stroke-width="0.2">80.00</text>
<text transform="translate(575.50 200.03) scale(0.667 1)" font-size="7" fill="#131722" text-anchor="start" font-weight="normal" stroke="#131722" stroke-width="0.2">84.00</text>
<text transform="translate(575.50 180.38) scale(0.667 1)" font-size="7" fill="#131722" text-anchor="start" font-weight="normal" stroke="#131722" stroke-width="0.2">86.00</text>
<text transform="translate(575.50 160.74) scale(0.667 1)" font-size="7" fill="#131722" text-anchor="start" font-weight="normal" stroke="#131722" stroke-width="0.2">88.00</text>
<text transform="translate(575.50 141.09) scale(0.667 1)" font-size="7" fill="#131722" text-anchor="start" font-weight="normal" stroke="#131722" stroke-width="0.2">90.00</text>
<text transform="translate(575.50 121.44) scale(0.667 1)" font-size="7" fill="#131722" text-anchor="start" font-weight="normal" stroke="#131722" stroke-width="0.2">92.00</text>
<text transform="translate(575.50 101.79) scale(0.667 1)" font-size="7" fill="#131722" text-anchor="start" font-weight="normal" stroke="#131722" stroke-width="0.2">94.00</text>
<text transform="translate(575.50 82.14) scale(0.667 1)" font-size="7" fill="#131722" text-anchor="start" font-weight="normal" stroke="#131722" stroke-width="0.2">96.00</text>
<text transform="translate(575.50 62.50) scale(0.667 1)" font-size="7" fill="#131722" text-anchor="start" font-weight="normal" stroke="#131722" stroke-width="0.2">98.00</text>
<text transform="translate(575.50 42.85) scale(0.667 1)" font-size="7" fill="#131722" text-anchor="start" font-weight="normal" stroke="#131722" stroke-width="0.2">100.00</text>
<text transform="translate(575.50 23.20) scale(0.667 1)" font-size="7" fill="#131722" text-anchor="start" font-weight="normal" stroke="#131722" stroke-width="0.2">102.00</text>
<rect x="572.4" y="214.5" width="25.6" height="16.7" fill="#f23645"/>
<text transform="translate(575.50 221.80) scale(0.667 1)" font-size="7" fill="#fff" text-anchor="start" font-weight="normal" stroke="#fff" stroke-width="0.25">81.88</text>
<text transform="translate(575.50 229.00) scale(0.667 1)" font-size="7" fill="#fff" text-anchor="start" font-weight="normal" stroke="#fff" stroke-width="0.15">12:57:00</text>
<text transform="translate(34.20 449.90) scale(0.667 1)" font-size="7" fill="#131722" text-anchor="middle" font-weight="normal" stroke="#131722" stroke-width="0.2">Oct</text>
<text transform="translate(90.11 449.90) scale(0.667 1)" font-size="7" fill="#131722" text-anchor="middle" font-weight="normal" stroke="#131722" stroke-width="0.2">Nov</text>
<text transform="translate(146.02 449.90) scale(0.667 1)" font-size="7" fill="#131722" text-anchor="middle" font-weight="normal" stroke="#131722" stroke-width="0.2">Dec</text>
<text transform="translate(196.84 449.90) scale(0.667 1)" font-size="7" fill="#131722" text-anchor="middle" font-weight="normal" stroke="#131722" stroke-width="0.2">2024</text>
<text transform="translate(252.75 449.90) scale(0.667 1)" font-size="7" fill="#131722" text-anchor="middle" font-weight="normal" stroke="#131722" stroke-width="0.2">Feb</text>
<text transform="translate(306.12 449.90) scale(0.667 1)" font-size="7" fill="#131722" text-anchor="middle" font-weight="normal" stroke="#131722" stroke-width="0.2">Mar</text>
<text transform="translate(356.95 449.90) scale(0.667 1)" font-size="7" fill="#131722" text-anchor="middle" font-weight="normal" stroke="#131722" stroke-width="0.2">Apr</text>
<text transform="translate(412.85 449.90) scale(0.667 1)" font-size="7" fill="#131722" text-anchor="middle" font-weight="normal" stroke="#131722" stroke-width="0.2">May</text>
<text transform="translate(471.30 449.90) scale(0.667 1)" font-size="7" fill="#131722" text-anchor="middle" font-weight="normal" stroke="#131722" stroke-width="0.2">Jun</text>
<text transform="translate(522.13 449.90) scale(0.667 1)" font-size="7" fill="#131722" text-anchor="middle" font-weight="normal" stroke="#131722" stroke-width="0.2">Jul</text>
<text transform="translate(4.00 10.80) scale(0.61 1)" font-size="7.6" fill="#131722" text-anchor="start" font-weight="normal">DCottleFX published on TradingView.com, Jul 09, 2024 09:03 UTC</text>
<text transform="translate(7.50 26.00) scale(0.61 1)" font-size="7.4" fill="#131722" text-anchor="start" font-weight="normal"><tspan fill="#131722">CFDs on WTI Crude Oil, 1D, TVC&#160;&#160;O</tspan><tspan fill="#f23645">82.21&#160;&#160;</tspan><tspan fill="#131722">H</tspan><tspan fill="#f23645">82.39&#160;&#160;</tspan><tspan fill="#131722">L</tspan><tspan fill="#f23645">81.76&#160;&#160;</tspan><tspan fill="#131722">C</tspan><tspan fill="#f23645">81.88&#160;&#160;−0.33 (−0.40%)</tspan></text>
<g fill="#131722"><path d="M4 462.9h3.1v5.6H5.4v-3.6H4z"/><ellipse cx="8.15" cy="463.8" rx="0.62" ry="0.9"/><path d="M9.2 462.9h2.1l-1.6 5.6H7.7z"/></g>
<text transform="translate(12.90 468.60) scale(0.655 1)" font-size="7.5" fill="#30343f" text-anchor="start" font-weight="normal" stroke="#30343f" stroke-width="0.25">TradingView</text>
</svg></body></html>
